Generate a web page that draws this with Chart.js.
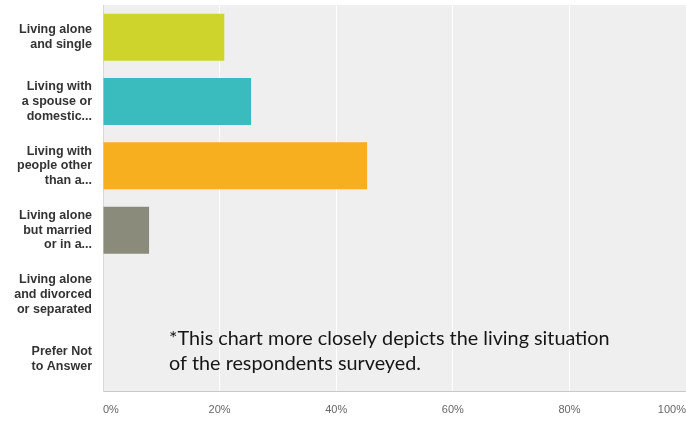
<!DOCTYPE html>
<html>
<head>
<meta charset="utf-8">
<script src="https://cdn.jsdelivr.net/npm/chart.js@4.4.1/dist/chart.umd.min.js"></script>
<style>
  html, body { margin: 0; padding: 0; background: #fff; }
  #wrap { width: 686px; height: 421px; position: relative; }
</style>
</head>
<body>
<div id="wrap"><canvas id="myChart"></canvas></div>
<script>
const categories = [
    ["Living alone", "and single"],
    ["Living with", "a spouse or", "domestic..."],
    ["Living with", "people other", "than a..."],
    ["Living alone", "but married", "or in a..."],
    ["Living alone", "and divorced", "or separated"],
    ["Prefer Not", "to Answer"]
];
const responses = [20.8, 25.4, 45.3, 7.9, 0, 0];
const barColors = ["#cfd42c", "#3abcbf", "#f7ae1f", "#8b8b7b", "#999999", "#999999"];
const noteLines = [
    "*This chart more closely depicts the living situation",
    "of the respondents surveyed."
];

// grey plot background + footnote text
const plotExtras = {
    id: 'plotExtras',
    beforeDraw(chart) {
        const { ctx, chartArea } = chart;
        ctx.save();
        ctx.fillStyle = '#efefef';
        ctx.fillRect(chartArea.left, chartArea.top, chartArea.right - chartArea.left, chartArea.bottom - chartArea.top);
        ctx.restore();
    },
    afterDraw(chart) {
        const ctx = chart.ctx;
        ctx.save();
        ctx.fillStyle = '#161616';
        ctx.font = '19.8px Lato';
        ctx.textBaseline = 'alphabetic';
        noteLines.forEach((line, i) => {
            ctx.fillText(line, 169, 345 + i * 25, 442);
        });
        ctx.restore();
    }
};

new Chart("myChart", {
    type: "bar",
    data: {
        labels: categories,
        datasets: [{
            data: responses,
            backgroundColor: barColors,
            barPercentage: 0.73,
            categoryPercentage: 1
        }]
    },
    plugins: [plotExtras],
    options: {
        indexAxis: 'y',
        responsive: true,
        maintainAspectRatio: false,
        animation: false,
        layout: { padding: { top: 5, right: 0, bottom: 0, left: 0 } },
        plugins: {
            legend: { display: false },
            tooltip: { enabled: false }
        },
        scales: {
            x: {
                min: 0,
                max: 100,
                ticks: {
                    stepSize: 20,
                    align: 'inner',
                    padding: 12,
                    color: '#666',
                    font: { family: '"Liberation Sans", Arial', size: 11 },
                    callback: (v) => v + '%'
                },
                grid: { color: '#ffffff', lineWidth: 1, drawTicks: false },
                border: { display: true, color: '#c9c9c9' },
                afterFit(scale) {
                    scale.height = 30;
                    scale.paddingLeft = 0;
                    scale.paddingRight = 0;
                }
            },
            y: {
                ticks: {
                    padding: 11,
                    color: '#333',
                    font: { family: '"Liberation Sans", Arial', size: 12.5, weight: 'bold', lineHeight: 1.18 }
                },
                grid: { display: false, drawTicks: false },
                border: { display: true, color: '#d9d9d9' },
                afterFit(scale) {
                    scale.width = 103;
                    scale.paddingTop = 0;
                    scale.paddingBottom = 0;
                }
            }
        }
    }
});
</script>
</body>
</html>
